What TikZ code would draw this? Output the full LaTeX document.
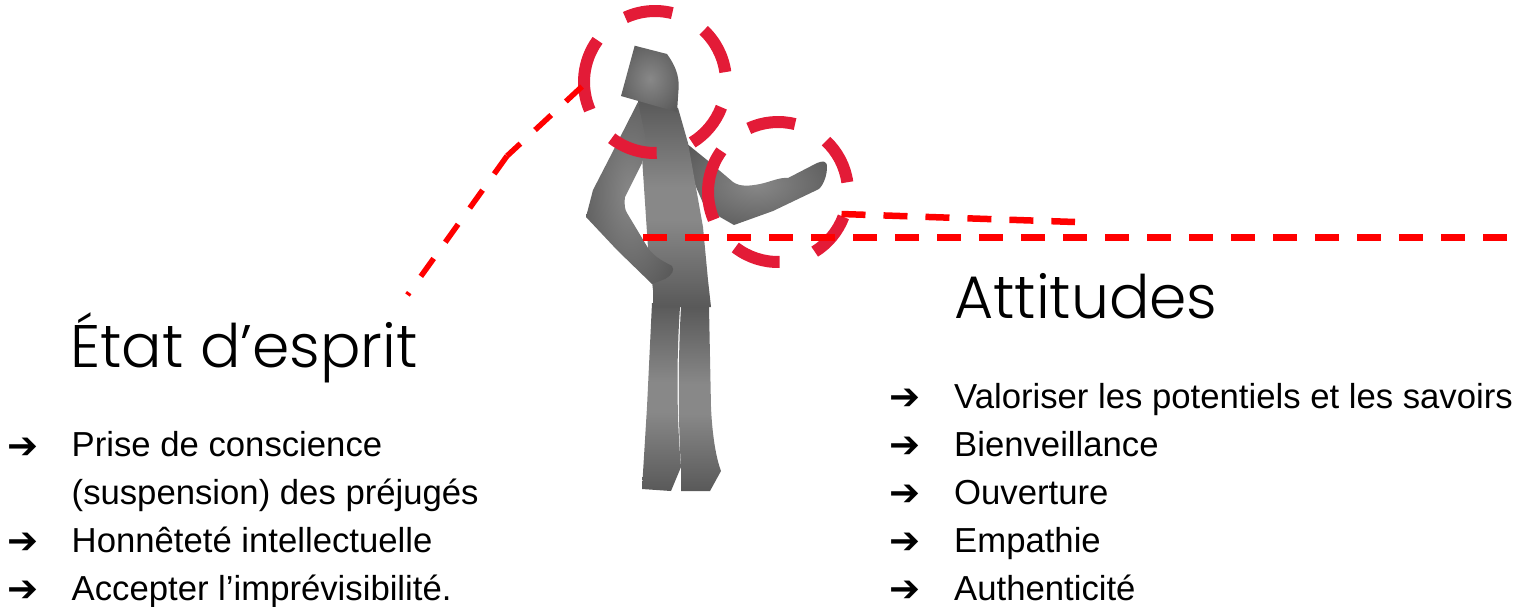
\documentclass[tikz,border=0pt]{standalone}
\usepackage{fontspec}
\setmainfont{Liberation Sans}
\newfontfamily\headfont[UprightFont={* Light}]{Poppins}
\newfontfamily\arrowfont{DejaVu Sans}
\usetikzlibrary{calc}
\definecolor{ringred}{HTML}{E31B37}
\definecolor{linered}{HTML}{FF0000}
\definecolor{figlight}{HTML}{888888}
\definecolor{figdark}{HTML}{595959}
\pgfdeclareradialshading{figrad}{\pgfpointorigin}{color(0bp)=(figlight); color(32bp)=(figdark); color(50bp)=(figdark)}
\pgfdeclareverticalshading{figaxis}{100bp}{color(0bp)=(figdark); color(25bp)=(figdark); color(46bp)=(figlight); color(54bp)=(figlight); color(75bp)=(figdark); color(100bp)=(figdark)}
\tikzset{
  ring/.style={draw=ringred,line width=12pt},
  guide/.style={draw=linered,line width=6.5pt,dash pattern=on 24pt off 18pt},
  guidethin/.style={draw=linered,line width=5.5pt,dash pattern=on 22pt off 20pt},
  radfig/.style={shading=figrad},
  axfig/.style={shading=figaxis},
  head/.style={font=\headfont\fontsize{60}{60}\selectfont,anchor=base west,inner sep=0pt},
  item/.style={font=\fontsize{34.7}{40}\selectfont,anchor=base west,inner sep=0pt},
  bullet/.style={font=\arrowfont\fontsize{37}{40}\selectfont,anchor=base west,inner sep=0pt,text depth=0pt}
}
\newcommand{\ringset}[2]{%
  \foreach \sa/\ea in {-114.7/-75.9,-46.7/-8,20.8/58.4,88.6/127.6,156.7/216}{
    \draw[ring] ($(#1)+(\sa:#2)$) arc[start angle=\sa,end angle=\ea,radius=#2];
  }}
\begin{document}
\begin{tikzpicture}[x=1pt,y=-1pt]
\useasboundingbox (0,0) rectangle (1524,606);
% figure
\shade[axfig] (652,303) -- (680,307) .. controls (677,350) and (676,410) .. (681,467) -- (671,491) -- (642,489) -- (647,407) -- cycle;
\shade[axfig] (681,307) -- (709,307) -- (711,407) .. controls (712,430) and (715,455) .. (721,471) -- (710,491) -- (681,491) -- (681,467) .. controls (678,420) and (678,360) .. cycle;
\shade[radfig] (686,143) -- (707,160) -- (733,182) .. controls (740,187) and (750,186) .. (760,184) .. controls (770,182) and (780,177) .. (788,178) -- (817,163) .. controls (822,161) and (827,160) .. (827,167) .. controls (827,175) and (824,184) .. (819,189) -- (773,211) -- (734,225) -- (720,217) -- (703,203) -- (693,180) -- cycle;
\shade[axfig] (638,100) -- (678,108) -- (688,143) -- (703,227) -- (708,280) -- (711,307) -- (653,307) -- (653,290) -- (648,248) -- (642,157) -- cycle;
\shade[radfig] (638,102) -- (646,140) -- (642,163) -- (625,197) .. controls (624,205) and (625,210) .. (627,213) -- (648,248) .. controls (655,258) and (665,262) .. (672,266) .. controls (675,270) and (672,275) .. (665,279) -- (652,284) -- (617,250) -- (586,217) -- (593,190) -- (610,157) -- cycle;
\shade[radfig] (634.7,45.7) -- (667,54) .. controls (675,65) and (679,75) .. (678.7,87) -- (677,112) -- (621,96) -- cycle;
% rings
\coordinate (headc) at (655,82);
\coordinate (handc) at (778,192);
\ringset{headc}{71}
\ringset{handc}{70}
% guides
\coordinate (g1a) at (643,237.5);
\coordinate (g1b) at (1508,237.5);
\coordinate (g2a) at (841.5,214);
\coordinate (g2b) at (1075,222);
\coordinate (g3a) at (582,86.5);
\coordinate (g3b) at (507,156);
\coordinate (g3c) at (407.5,295);
\draw[guide] (g1a) -- (g1b);
\draw[guide] (g2a) -- (g2b);
\draw[guidethin] (g3a) -- (g3b);
\draw[guidethin] (g3b) -- (g3c);
% left text
\node[head] (hl) at (70,367) {État d’esprit};
\node[bullet] (bl1) at (7,458) {➔};
\node[item] (tl1) at (71.5,456) {Prise de conscience};
\node[item] (tl2) at (71.5,504) {(suspension) des préjugés};
\node[bullet] (bl2) at (7,553) {➔};
\node[item] (tl3) at (71.5,552) {Honnêteté intellectuelle};
\node[bullet] (bl3) at (7,601) {➔};
\node[item] (tl4) at (71.5,600) {Accepter l’imprévisibilité.};
% right text
\node[head] (hr) at (954,318) {Attitudes};
\node[bullet] (br1) at (889,409) {➔};
\node[item] (tr1) at (954,408) {Valoriser les potentiels et les savoirs};
\node[bullet] (br2) at (889,457) {➔};
\node[item] (tr2) at (954,456) {Bienveillance};
\node[bullet] (br3) at (889,505) {➔};
\node[item] (tr3) at (954,504) {Ouverture};
\node[bullet] (br4) at (889,553) {➔};
\node[item] (tr4) at (954,552) {Empathie};
\node[bullet] (br5) at (889,601) {➔};
\node[item] (tr5) at (954,600) {Authenticité};
\end{tikzpicture}
\end{document}
